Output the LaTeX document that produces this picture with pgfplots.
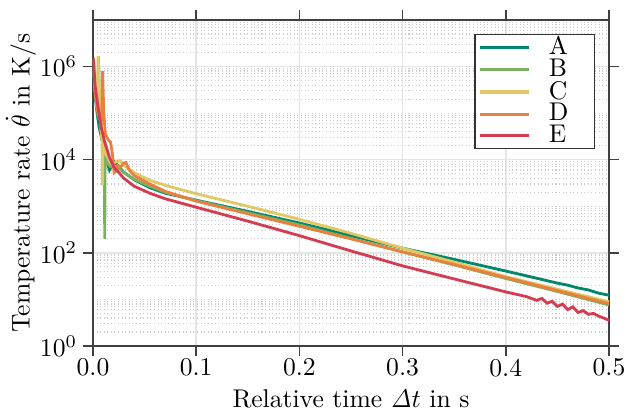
\documentclass[border=0pt]{standalone}
\usepackage{pgfplots}
\pgfplotsset{compat=1.18}
\definecolor{cA}{RGB}{0,135,108}
\definecolor{cB}{RGB}{122,177,96}
\definecolor{cC}{RGB}{224,200,100}
\definecolor{cD}{RGB}{232,128,64}
\definecolor{cE}{RGB}{212,61,81}
\begin{document}
\begin{tikzpicture}
\begin{axis}[
  scale only axis,
  width=201.5pt, height=127.3pt,
  xmin=0, xmax=0.5, ymin=1, ymax=1e7,
  ymode=log,
  xtick={0,0.1,0.2,0.3,0.4,0.5},
  xticklabels={0.0,0.1,0.2,0.3,0.4,0.5},
  ytick={1,100,10000,1000000},
  minor ytick={2,3,4,5,6,7,8,9,10,20,30,40,50,60,70,80,90,200,300,400,500,600,700,800,900,1000,2000,3000,4000,5000,6000,7000,8000,9000,20000,30000,40000,50000,60000,70000,80000,90000,100000,200000,300000,400000,500000,600000,700000,800000,900000,2000000,3000000,4000000,5000000,6000000,7000000,8000000,9000000},
  minor tick length=0pt,
  major tick length=4pt,
  tick align=outside,
  axis line style={black!75, line width=0.6pt},
  tick style={black!75, line width=0.6pt},
  grid=major,
  major grid style={gray!20, line width=0.6pt},
  minor grid style={gray!40, densely dotted, line width=0.45pt},
  ymajorgrids, yminorgrids, xmajorgrids,
  yticklabel style={inner xsep=2pt},
  xticklabel style={yshift=2.5pt},
  xlabel={Relative time $\mathit{\Delta}t$ in s},
  ylabel={Temperature rate $\dot{\theta}$ in K/s},
  xlabel style={yshift=2pt},
  ylabel style={yshift=-4pt},
  legend style={at={(1,1)}, xshift=-5.5pt, yshift=-5.5pt, anchor=north east, draw=black!80, line width=0.5pt, inner xsep=1.2pt, inner ysep=0.6pt, row sep=0pt, nodes={inner ysep=0.1pt, inner xsep=0.5pt}},
  legend cell align=left,
  legend image code/.code={\draw[#1, line width=1.2pt] (0pt,0pt) -- (19.1pt,0pt); \path (26pt,0pt);},
  every axis plot/.append style={line width=1.1pt},
]
\coordinate (nw) at (rel axis cs:0,1);
\coordinate (se) at (rel axis cs:1,0);
\addplot[cA] coordinates {
(0.0005,7.94e5)(0.002,2.51e5)(0.004,1.0e5)(0.006,5.01e4)(0.008,3.16e4)(0.010,2.0e4)(0.013,1.0e4)(0.016,6.03e3)(0.018,7.41e3)(0.021,8.91e3)(0.025,7.08e3)(0.030,5.37e3)(0.040,3.72e3)(0.055,2.51e3)(0.07,1.91e3)(0.1,1.35e3)(0.15,776)(0.2,437)(0.25,234)(0.3,126)(0.35,72.4)(0.4,40.7)(0.45,22.4)(0.46,20.2)(0.47,17.6)(0.48,16.0)(0.49,13.6)(0.5,12.3)};
\addlegendentry{A\hspace*{8.5pt}}
\addplot[cB] coordinates {
(0.0005,1e6)(0.002,3.16e5)(0.004,1.26e5)(0.0048,3.98e5)(0.0053,1.66e6)(0.006,2.51e5)(0.008,3.98e4)(0.010,2.0e4)(0.011,1.58e4)(0.0114,200)(0.0118,1.0e4)(0.014,8.32e3)(0.017,7.08e3)(0.02,7.08e3)(0.025,6.61e3)(0.03,5.25e3)(0.04,3.80e3)(0.055,2.69e3)(0.07,2.0e3)(0.1,1.32e3)(0.15,724)(0.2,398)(0.25,204)(0.3,105)(0.35,55.0)(0.4,28.2)(0.45,14.8)(0.5,7.59)};
\addlegendentry{B}
\addplot[cC] coordinates {
(0.0005,1.41e6)(0.002,3.16e5)(0.004,1.26e5)(0.0045,3.16e5)(0.005,1.70e6)(0.006,3.16e5)(0.008,3.98e4)(0.0088,2.51e4)(0.0092,2.82e3)(0.0096,2.0e4)(0.012,1.41e4)(0.015,1.0e4)(0.018,7.94e3)(0.022,8.91e3)(0.026,9.55e3)(0.03,7.59e3)(0.04,5.25e3)(0.055,3.63e3)(0.07,2.82e3)(0.1,1.86e3)(0.15,1.0e3)(0.2,525)(0.25,263)(0.3,126)(0.35,63.1)(0.4,30.9)(0.45,16.6)(0.5,8.91)};
\addlegendentry{C}
\addplot[cD] coordinates {
(0.0005,1.51e6)(0.002,3.16e5)(0.005,8.91e4)(0.008,6.31e4)(0.0088,1.58e5)(0.0093,7.94e5)(0.0105,1.0e5)(0.012,3.55e4)(0.015,2.63e4)(0.017,2.40e4)(0.019,1.26e4)(0.0205,5.25e3)(0.022,5.62e3)(0.024,7.59e3)(0.027,7.08e3)(0.030,8.51e3)(0.032,8.71e3)(0.035,6.03e3)(0.04,4.57e3)(0.055,3.02e3)(0.07,2.09e3)(0.1,1.29e3)(0.15,692)(0.2,372)(0.25,200)(0.3,105)(0.35,56.2)(0.4,29.5)(0.45,15.5)(0.5,8.13)};
\addlegendentry{D}
\addplot[cE] coordinates {
(0.0003,1.51e6)(0.002,3.98e5)(0.005,1.32e5)(0.008,5.01e4)(0.011,2.57e4)(0.016,1.12e4)(0.02,7.08e3)(0.03,3.98e3)(0.04,2.69e3)(0.055,1.91e3)(0.07,1.45e3)(0.1,955)(0.15,479)(0.2,234)(0.25,110)(0.3,52.5)(0.35,27.5)(0.4,14.5)(0.42,11.5)(0.43,9.55)(0.435,10.5)(0.44,8.32)(0.445,9.12)(0.45,7.08)(0.455,7.94)(0.46,6.03)(0.465,6.92)(0.47,5.25)(0.475,5.75)(0.48,4.79)(0.485,5.01)(0.49,4.37)(0.495,3.98)(0.5,3.55)};
\addlegendentry{E}
\end{axis}
\pgfresetboundingbox
\path ([xshift=-36.3pt,yshift=7.8pt]nw) rectangle ([xshift=8.2pt,yshift=-26.2pt]se);
\end{tikzpicture}
\end{document}
